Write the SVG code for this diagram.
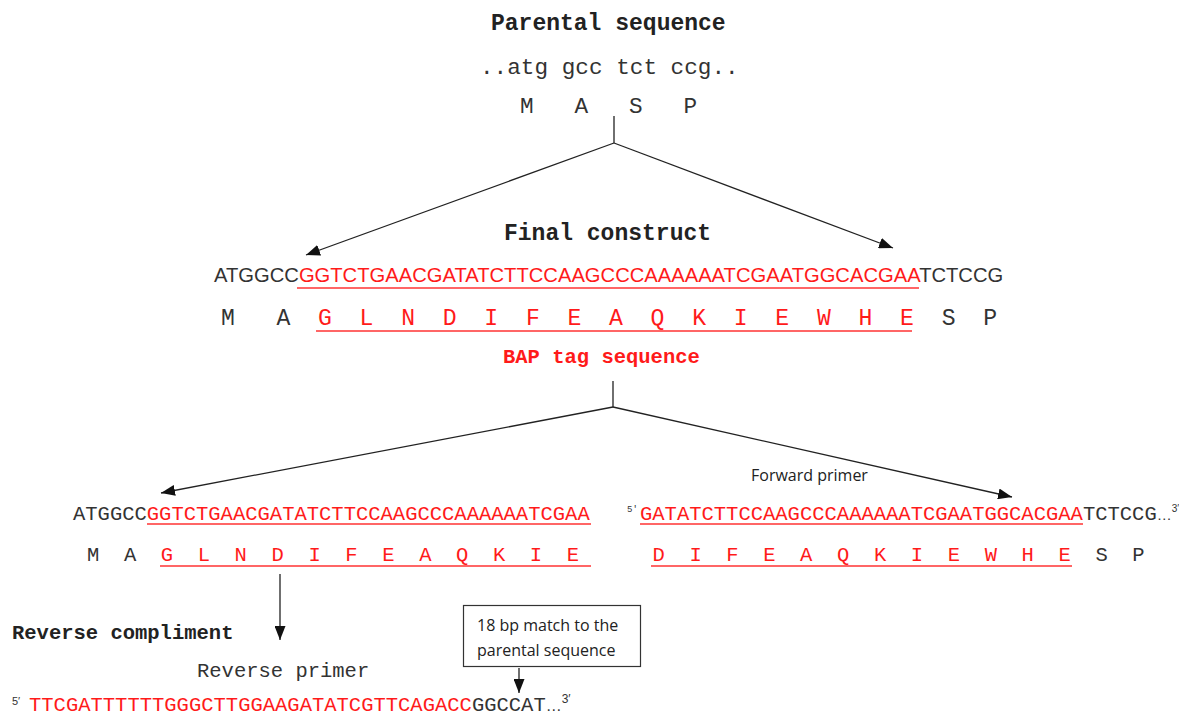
<svg xmlns="http://www.w3.org/2000/svg" width="1179" height="717" viewBox="0 0 1179 717">
<style>
.mono{font-family:"Liberation Mono","Courier New",monospace;fill:#333}
.b{font-weight:bold;fill:#222}
.sans{font-family:"Liberation Sans",Arial,sans-serif;fill:#333}
.cal{font-family:"Open Sans","Liberation Sans",sans-serif;fill:#222;font-size:16px}
.r{fill:#ff1a1a}
.ul{stroke:#ff3333;stroke-width:1.5}
.ln{stroke:#222;stroke-width:1.3;fill:none}
</style>
<defs>
<marker id="ah" markerUnits="userSpaceOnUse" markerWidth="15" markerHeight="11" refX="14" refY="5.5" orient="auto">
<path d="M0,0 L14,5.5 L0,11 Z" fill="#111"/>
</marker>
</defs>
<rect width="1179" height="717" fill="#fff"/>

<g id="parental">
<text class="mono b" x="491" y="30" font-size="23">Parental sequence</text>
<text class="mono" x="480" y="74" font-size="22.7">..atg gcc tct ccg..</text>
<text class="mono" x="520" y="113" font-size="22.7" xml:space="preserve">M   A   S   P</text>
</g>

<g id="final-construct">
<text class="mono b" x="504" y="240" font-size="23">Final construct</text>
<text class="sans" x="214" y="282" font-size="20.2">ATGGCC<tspan class="r">GGTCTGAACGATATCTTCCAAGCCCAAAAAATCGAATGGCACGAA</tspan>TCTCCG</text>
<line class="ul" x1="297" y1="288" x2="919" y2="288"/>
<text class="mono" x="221" y="325" font-size="23.1" xml:space="preserve">M   A  <tspan class="r">G  L  N  D  I  F  E  A  Q  K  I  E  W  H  E</tspan>  S  P</text>
<line class="ul" x1="316" y1="331" x2="912" y2="331"/>
</g>

<g id="bap-tag">
<text class="mono b r" x="503" y="363" font-size="20.5">BAP tag sequence</text>
</g>

<g id="left-fragment">
<text class="mono" x="73" y="520" font-size="20.5">ATGGCC<tspan class="r">GGTCTGAACGATATCTTCCAAGCCCAAAAAATCGAA</tspan></text>
<line class="ul" x1="147" y1="524" x2="591" y2="524"/>
<text class="mono" x="87" y="561" font-size="20.5" xml:space="preserve">M  A  <tspan class="r">G  L  N  D  I  F  E  A  Q  K  I  E</tspan></text>
<line class="ul" x1="160" y1="566" x2="591" y2="566"/>
</g>

<g id="forward-primer">
<text class="cal" x="751" y="481">Forward primer</text>
<text class="mono" x="627" y="512" font-size="9">5'</text>
<text class="mono" x="640" y="520" font-size="20.5"><tspan class="r">GATATCTTCCAAGCCCAAAAAATCGAATGGCACGAA</tspan>TCTCCG<tspan class="sans" font-size="15">…</tspan><tspan class="sans" font-size="10" dy="-8">3′</tspan></text>
<line class="ul" x1="640" y1="524" x2="1083" y2="524"/>
<text class="mono" x="652.5" y="561" font-size="20.5" xml:space="preserve"><tspan class="r">D  I  F  E  A  Q  K  I  E  W  H  E</tspan>  S  P</text>
<line class="ul" x1="651" y1="566" x2="1072" y2="566"/>
</g>

<g id="reverse-compliment">
<text class="mono b" x="12" y="639" font-size="20.5">Reverse compliment</text>
</g>

<g id="reverse-primer">
<text class="mono" x="197" y="677" font-size="20.5">Reverse primer</text>
</g>

<g id="match-box">
<rect x="463.5" y="605.5" width="177" height="61" fill="#fff" stroke="#333" stroke-width="1.2"/>
<text class="cal" x="477" y="631">18 bp match to the</text>
<text class="cal" x="477" y="656">parental sequence</text>
</g>

<g id="reverse-sequence">
<text class="sans" x="12" y="705" font-size="11">5′</text>
<text class="mono" x="29" y="711" font-size="20.5"><tspan class="r">TTCGATTTTTTGGGCTTGGAAGATATCGTTCAGACC</tspan>GGCCAT<tspan class="sans" font-size="16">…</tspan><tspan class="sans" font-size="12" dy="-8">3′</tspan></text>
</g>

<g id="connectors">
<path class="ln" d="M614,116 V143"/>
<path class="ln" d="M614,143 L306,255" marker-end="url(#ah)"/>
<path class="ln" d="M614,143 L893,248" marker-end="url(#ah)"/>
<path class="ln" d="M613,381 V407"/>
<path class="ln" d="M613,407 L161,493" marker-end="url(#ah)"/>
<path class="ln" d="M613,407 L1012,497" marker-end="url(#ah)"/>
<path class="ln" d="M280,574 V640" marker-end="url(#ah)"/>
<path class="ln" d="M519,668 V693" marker-end="url(#ah)"/>
</g>
</svg>
